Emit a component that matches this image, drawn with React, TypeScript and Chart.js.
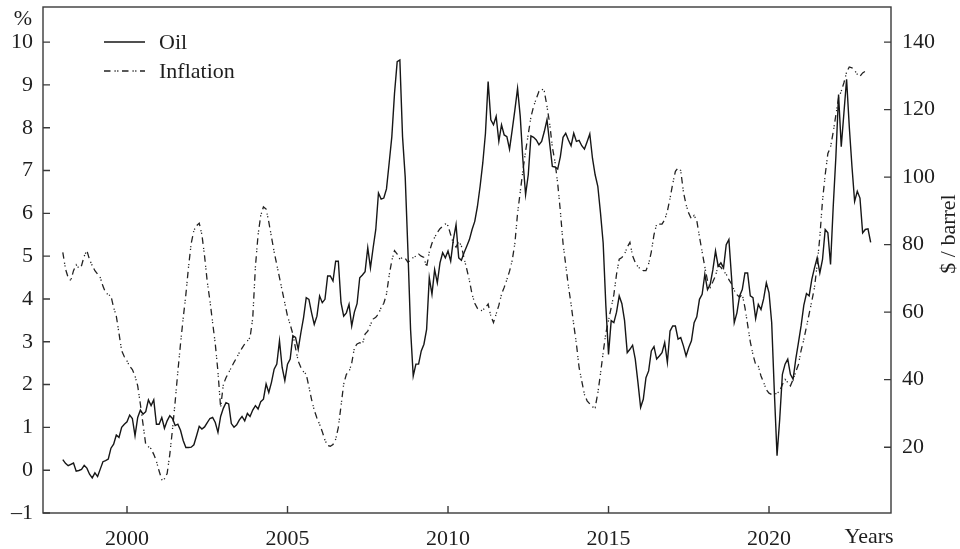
import React, { useEffect, useRef } from "react";
import { Chart, registerables } from "chart.js";

Chart.register(...registerables);

const START_YEAR = 1998;
const X_TICKS = [2000, 2005, 2010, 2015, 2020];
const LEFT_TICKS = [-1, 0, 1, 2, 3, 4, 5, 6, 7, 8, 9, 10];
const RIGHT_TICKS = [20, 40, 60, 80, 100, 120, 140];

// Oil price, $/barrel, monthly from Jan 1998
const oil = [
  16.3, 15.2, 14.5, 14.9, 15.3, 12.9, 13.1, 13.4, 14.6, 13.8, 12.0, 10.9,
  12.4, 11.3, 13.5, 15.7, 16.0, 16.5, 19.7, 20.9, 23.6, 22.9, 25.9, 26.8,
  27.5, 29.5, 28.5, 23.4, 28.8, 31.0, 29.8, 30.5, 34.0, 32.3, 34.0, 26.8,
  26.8, 28.8, 25.6, 27.8, 29.3, 28.5, 26.4, 26.8, 25.0, 22.0, 19.9, 19.9,
  20.0, 20.7, 23.4, 26.2, 25.4, 26.0, 27.3, 28.5, 28.8, 27.3, 24.4, 29.1,
  31.5, 33.2, 32.8, 27.0, 25.9, 26.6, 28.1, 29.1, 27.8, 30.0, 29.1, 31.0,
  32.3, 31.3, 33.5, 34.2, 38.7, 36.2, 39.2, 43.1, 44.6, 51.5, 43.6, 39.7,
  44.6, 46.1, 53.0, 52.5, 49.0, 53.9, 58.4, 64.3, 63.8, 59.8, 56.4, 58.8,
  64.8, 62.8, 63.8, 70.7, 70.7, 69.2, 75.1, 75.1, 62.8, 58.8, 59.8, 62.3,
  55.9, 60.0, 62.5, 70.2, 71.0, 72.0, 79.1, 73.1, 79.0, 84.5, 95.3, 93.5,
  93.8, 96.5, 104.2, 112.0, 124.8, 134.2, 134.7, 112.0, 100.0, 78.5, 54.9, 41.1,
  44.6, 44.6, 48.5, 50.5, 54.9, 70.2, 65.3, 72.6, 68.7, 74.6, 77.6, 76.1,
  78.1, 75.1, 81.5, 85.9, 76.1, 75.4, 77.6, 79.5, 81.5, 84.5, 86.9, 91.3,
  97.3, 104.2, 113.0, 128.3, 117.0, 115.5, 118.0, 110.6, 115.5, 112.5, 112.0, 108.3,
  114.0, 119.9, 126.3, 118.0, 105.0, 94.8, 100.7, 112.2, 111.8, 111.0, 109.6, 110.6,
  113.5, 117.0, 110.0, 103.2, 103.0, 102.4, 106.1, 111.8, 113.0, 111.0, 109.3, 113.0,
  110.6, 110.9, 109.3, 108.3, 110.5, 112.8, 105.6, 100.7, 97.3, 89.4, 80.5, 62.0,
  47.5, 57.5, 56.9, 60.0, 64.8, 62.5, 57.5, 48.0, 49.0, 50.2, 46.1, 39.2,
  31.8, 34.2, 40.6, 42.6, 48.5, 49.8, 46.1, 47.0, 48.0, 51.0, 45.1, 54.4,
  55.9, 55.9, 52.0, 52.5, 50.0, 47.0, 49.5, 51.5, 56.9, 58.6, 63.8, 65.3,
  71.2, 66.7, 68.2, 72.5, 78.1, 73.6, 74.6, 73.1, 80.0, 81.5, 70.2, 56.9,
  59.8, 64.8, 66.7, 71.6, 71.6, 64.8, 64.3, 58.1, 62.3, 60.8, 64.0, 68.7,
  65.7, 56.9, 36.2, 17.5, 28.3, 41.6, 44.6, 46.1, 41.6, 40.1, 46.1, 51.0,
  56.0, 62.0, 65.5, 64.8, 69.7, 73.1, 76.1, 71.6, 75.6, 84.5, 83.5, 74.1,
  91.3, 106.1, 124.5, 109.0, 119.0, 129.0, 115.0, 103.2, 92.8, 95.8, 93.8, 83.5,
  84.5, 84.7, 80.7,
];

// Inflation, %, monthly from Jan 1998
const inflation = [
  5.09, 4.70, 4.50, 4.43, 4.66, 4.80, 4.72, 4.78, 5.00, 5.13, 4.92, 4.78,
  4.66, 4.58, 4.50, 4.30, 4.15, 4.10, 4.07, 3.80, 3.60, 3.20, 2.79, 2.65,
  2.55, 2.43, 2.35, 2.20, 1.97, 1.54, 1.07, 0.60, 0.55, 0.50, 0.37, 0.21,
  -0.02, -0.22, -0.20, -0.08, 0.37, 0.95, 1.60, 2.30, 2.95, 3.55, 4.10, 4.75,
  5.30, 5.60, 5.71, 5.77, 5.50, 5.00, 4.40, 3.96, 3.45, 2.95, 2.30, 1.46,
  2.00, 2.16, 2.28, 2.40, 2.52, 2.63, 2.75, 2.85, 2.95, 3.02, 3.10, 3.55,
  4.75, 5.50, 5.95, 6.15, 6.10, 5.80, 5.45, 5.10, 4.80, 4.50, 4.20, 3.90,
  3.60, 3.40, 3.18, 2.85, 2.55, 2.40, 2.30, 2.24, 1.95, 1.65, 1.40, 1.22,
  1.07, 0.90, 0.70, 0.58, 0.56, 0.60, 0.72, 1.00, 1.50, 2.01, 2.24, 2.30,
  2.50, 2.86, 2.95, 2.98, 2.94, 3.18, 3.25, 3.40, 3.53, 3.57, 3.65, 3.80,
  3.90, 4.11, 4.55, 4.90, 5.13, 5.05, 4.93, 4.97, 4.95, 4.86, 4.90, 4.97,
  5.00, 5.05, 5.00, 4.97, 4.74, 5.10, 5.30, 5.44, 5.55, 5.64, 5.70, 5.75,
  5.71, 5.50, 5.30, 5.21, 5.35, 5.24, 4.95, 4.70, 4.43, 4.11, 3.90, 3.78,
  3.72, 3.74, 3.80, 3.88, 3.60, 3.45, 3.65, 3.85, 4.11, 4.27, 4.45, 4.65,
  4.90, 5.30, 6.00, 6.50, 7.00, 7.45, 7.85, 8.25, 8.50, 8.68, 8.85, 8.91,
  8.85, 8.50, 8.10, 7.55, 7.20, 6.70, 6.05, 5.30, 4.80, 4.30, 3.88, 3.40,
  2.95, 2.40, 2.08, 1.77, 1.62, 1.55, 1.48, 1.46, 1.80, 2.25, 2.75, 3.20,
  3.50, 3.80, 4.10, 4.58, 4.93, 4.97, 5.05, 5.21, 5.32, 5.01, 4.85, 4.75,
  4.70, 4.66, 4.66, 4.82, 5.10, 5.50, 5.75, 5.75, 5.75, 5.85, 6.05, 6.35,
  6.69, 6.98, 7.06, 7.00, 6.50, 6.20, 6.00, 5.87, 5.95, 5.83, 5.45, 5.10,
  4.75, 4.43, 4.27, 4.40, 4.54, 4.78, 4.74, 4.65, 4.58, 4.45, 4.35, 4.20,
  4.10, 4.04, 4.11, 3.80, 3.40, 3.00, 2.70, 2.47, 2.43, 2.20, 2.05, 1.88,
  1.80, 1.77, 1.77, 1.80, 1.85, 2.00, 2.12, 2.05, 1.97, 2.12, 2.30, 2.47,
  2.80, 3.05, 3.35, 3.65, 3.95, 4.27, 4.80, 5.45, 6.30, 6.90, 7.40, 7.55,
  7.90, 8.30, 8.70, 8.85, 9.05, 9.30, 9.42, 9.40, 9.34, 9.25, 9.20, 9.28,
  9.32, 9.36,
];

const SERIES_LABELS = ["Oil", "Inflation"];

const FONT_FAMILY = '"Liberation Serif", "DejaVu Serif", serif';
const FONT_SIZE = 22;
const TEXT_COLOR = "#1e1e1e";
const AXIS_COLOR = "#3a3a3a";

const toPoints = (vals: number[]) =>
  vals.map((v, i) => ({ x: START_YEAR + i / 12, y: v }));

const fmtSigned = (v: number) => (v < 0 ? "\u2013" + Math.abs(v) : String(v));

const overlayPlugin = {
  id: "overlay",
  afterDraw(chart: any) {
    const { ctx, chartArea: a, scales } = chart;
    ctx.save();
    // frame
    ctx.strokeStyle = AXIS_COLOR;
    ctx.lineWidth = 1.4;
    ctx.setLineDash([]);
    ctx.strokeRect(a.left, a.top, a.right - a.left, a.bottom - a.top);
    // inward tick marks
    const L = 7;
    ctx.beginPath();
    scales.x.ticks.forEach((t: any) => {
      const p = scales.x.getPixelForValue(t.value);
      ctx.moveTo(p, a.bottom);
      ctx.lineTo(p, a.bottom - L);
    });
    scales.y.ticks.forEach((t: any) => {
      const p = scales.y.getPixelForValue(t.value);
      ctx.moveTo(a.left, p);
      ctx.lineTo(a.left + L, p);
    });
    scales.y1.ticks.forEach((t: any) => {
      const p = scales.y1.getPixelForValue(t.value);
      ctx.moveTo(a.right, p);
      ctx.lineTo(a.right - L, p);
    });
    ctx.stroke();

    // axis texts
    ctx.fillStyle = TEXT_COLOR;
    ctx.font = `${FONT_SIZE}px ${FONT_FAMILY}`;
    ctx.textAlign = "center";
    ctx.textBaseline = "middle";
    ctx.fillText("%", a.left - 20, a.top + 12);
    ctx.fillText("Years", a.right - 22, a.bottom + 24);
    ctx.save();
    ctx.translate(a.right + 58, a.top + 227);
    ctx.rotate(-Math.PI / 2);
    ctx.fillText("$ / barrel", 0, 0);
    ctx.restore();

    // legend
    chart.data.datasets.forEach((ds: any, i: number) => {
      const y = a.top + 35 + i * 29;
      ctx.strokeStyle = ds.borderColor;
      ctx.lineWidth = ds.borderWidth;
      ctx.setLineDash(ds.borderDash || []);
      ctx.beginPath();
      ctx.moveTo(a.left + 61, y);
      ctx.lineTo(a.left + 102, y);
      ctx.stroke();
      ctx.setLineDash([]);
      ctx.textAlign = "left";
      ctx.fillText(ds.label, a.left + 116, y + 1);
    });
    ctx.restore();
  },
};

const zeroPad = (s: any) => {
  s.paddingTop = 0;
  s.paddingBottom = 0;
  s.paddingLeft = 0;
  s.paddingRight = 0;
};

export default function App() {
  const canvasRef = useRef<HTMLCanvasElement | null>(null);

  useEffect(() => {
    const canvas = canvasRef.current;
    if (!canvas) return;
    const font = { family: FONT_FAMILY, size: FONT_SIZE };
    const chart = new Chart(canvas, {
      type: "line",
      data: {
        datasets: [
          {
            label: SERIES_LABELS[0],
            data: toPoints(oil),
            yAxisID: "y1",
            borderColor: "#161616",
            borderWidth: 1.4,
            pointRadius: 0,
            tension: 0,
            fill: false,
          },
          {
            label: SERIES_LABELS[1],
            data: toPoints(inflation),
            yAxisID: "y",
            borderColor: "#222222",
            borderWidth: 1.3,
            borderDash: [6.5, 4, 1.2, 1.5, 1.2, 3.6],
            pointRadius: 0,
            tension: 0,
            fill: false,
          },
        ],
      },
      options: {
        animation: false,
        responsive: true,
        maintainAspectRatio: false,
        devicePixelRatio: 1,
        layout: { padding: { top: 7, left: 0, right: 0, bottom: 0 } },
        plugins: {
          legend: { display: false },
          tooltip: { enabled: false },
        },
        scales: {
          x: {
            type: "linear",
            min: 1997.383,
            max: 2023.8,
            grid: { display: false, drawTicks: false },
            border: { display: false },
            afterBuildTicks: (s: any) => {
              s.ticks = X_TICKS.map((v) => ({ value: v }));
            },
            afterFit: (s: any) => {
              s.height = 36;
              zeroPad(s);
            },
            ticks: {
              font,
              color: TEXT_COLOR,
              padding: 13,
              maxRotation: 0,
              autoSkip: false,
              callback: (v: any) => String(v),
            },
          },
          y: {
            type: "linear",
            position: "left",
            min: -1,
            max: 10.82,
            grid: { display: false, drawTicks: false },
            border: { display: false },
            afterBuildTicks: (s: any) => {
              s.ticks = LEFT_TICKS.map((v) => ({ value: v }));
            },
            afterFit: (s: any) => {
              s.width = 43;
              zeroPad(s);
            },
            ticks: {
              font,
              color: TEXT_COLOR,
              padding: 10,
              autoSkip: false,
              callback: (v: any) => fmtSigned(Number(v)),
            },
          },
          y1: {
            type: "linear",
            position: "right",
            min: 0.5,
            max: 150.4,
            grid: { display: false, drawTicks: false },
            border: { display: false },
            afterBuildTicks: (s: any) => {
              s.ticks = RIGHT_TICKS.map((v) => ({ value: v }));
            },
            afterFit: (s: any) => {
              s.width = 69;
              zeroPad(s);
            },
            ticks: {
              font,
              color: TEXT_COLOR,
              padding: 11,
              autoSkip: false,
              callback: (v: any) => String(v),
            },
          },
        },
      },
      plugins: [overlayPlugin],
    });
    return () => chart.destroy();
  }, []);

  return (
    <div
      style={{
        position: "absolute",
        left: 0,
        top: 0,
        width: 960,
        height: 549,
        background: "#fff",
      }}
    >
      <canvas ref={canvasRef} />
    </div>
  );
}
